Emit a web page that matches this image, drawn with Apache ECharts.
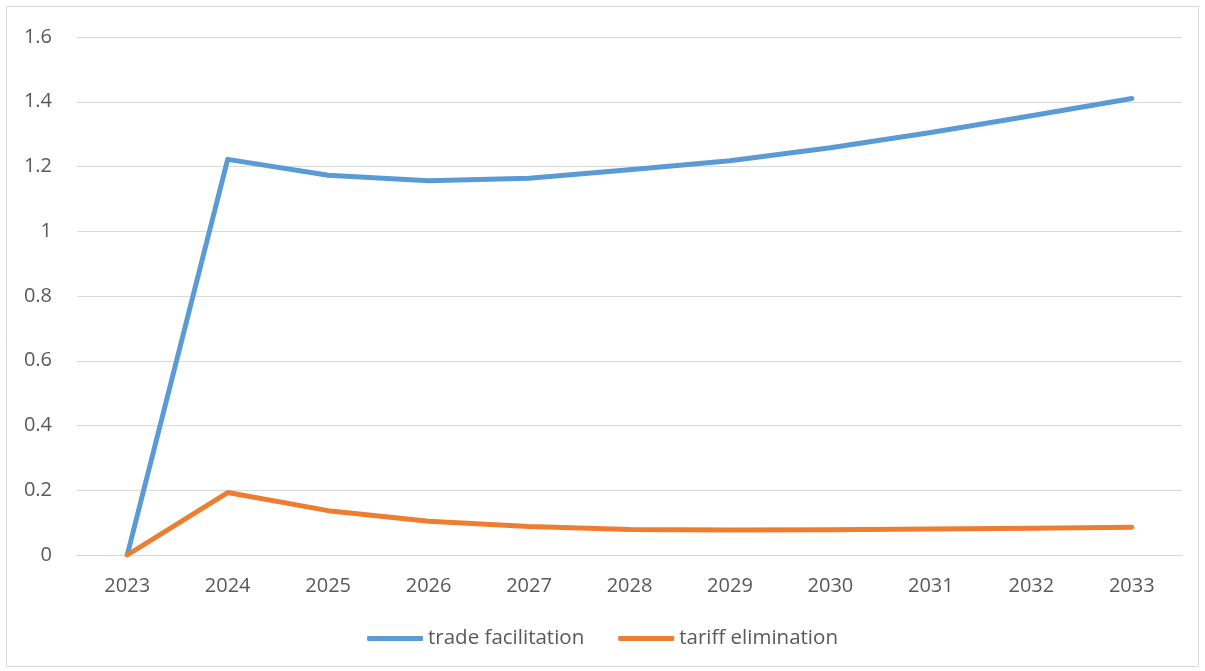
<!DOCTYPE html>
<html>
<head>
<meta charset="utf-8">
<script src="https://cdn.jsdelivr.net/npm/echarts@6/dist/echarts.min.js"></script>
<style>
  html, body { margin: 0; padding: 0; background: #fff; }
  #main { width: 1205px; height: 671px; }
</style>
</head>
<body>
<div id="main"></div>
<script>
var years = ['2023', '2024', '2025', '2026', '2027', '2028', '2029', '2030', '2031', '2032', '2033'];
var tradeFacilitation = [0, 1.222, 1.173, 1.156, 1.164, 1.19, 1.218, 1.258, 1.305, 1.357, 1.41];
var tariffElimination = [0, 0.193, 0.137, 0.104, 0.088, 0.079, 0.077, 0.078, 0.080, 0.083, 0.086];

var chart = echarts.init(document.getElementById('main'));
var textFont = '"Open Sans", "Liberation Sans", sans-serif';

var option = {
    animation: false,
    backgroundColor: '#fff',
    textStyle: { fontFamily: textFont },
    graphic: [{
        type: 'rect',
        shape: { x: 6.5, y: 6.5, width: 1192, height: 660 },
        style: { fill: 'none', stroke: '#d9d9d9', lineWidth: 1 },
        silent: true
    }],
    grid: { left: 77, right: 23, top: 37, bottom: 116 },
    legend: {
        bottom: 17,
        left: 'center',
        itemWidth: 56,
        itemHeight: 5,
        itemGap: 34,
        icon: 'roundRect',
        textStyle: { fontSize: 20.5, color: '#595959', fontFamily: textFont },
        data: ['trade facilitation', 'tariff elimination']
    },
    xAxis: {
        type: 'category',
        data: years,
        boundaryGap: true,
        axisLine: { show: true, lineStyle: { color: '#d9d9d9', width: 1 } },
        axisTick: { show: false },
        axisLabel: { fontSize: 20, color: '#595959', margin: 21 }
    },
    yAxis: {
        type: 'value',
        min: 0,
        max: 1.6,
        interval: 0.2,
        axisLine: { show: false },
        axisTick: { show: false },
        axisLabel: {
            fontSize: 20, color: '#595959', margin: 25,
            formatter: function (v) { return String(Math.round(v * 10) / 10); }
        },
        splitLine: { lineStyle: { color: '#d9d9d9', width: 1 } }
    },
    series: [{
        name: 'trade facilitation',
        type: 'line',
        data: tradeFacilitation,
        showSymbol: false,
        symbol: 'none',
        itemStyle: { color: '#5b9bd5' },
        lineStyle: { color: '#5b9bd5', width: 5, cap: 'round', join: 'round' }
    }, {
        name: 'tariff elimination',
        type: 'line',
        data: tariffElimination,
        showSymbol: false,
        symbol: 'none',
        itemStyle: { color: '#ed7d31' },
        lineStyle: { color: '#ed7d31', width: 5, cap: 'round', join: 'round' }
    }]
};

chart.setOption(option);
</script>
</body>
</html>
